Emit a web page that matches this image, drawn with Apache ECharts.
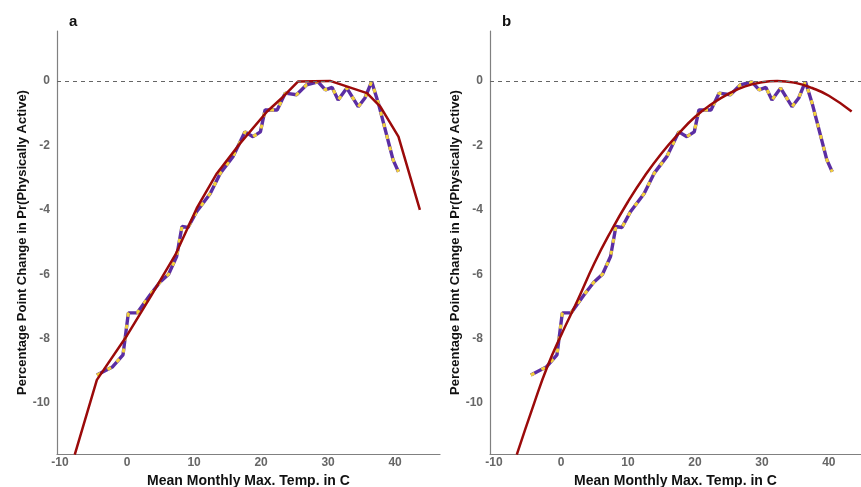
<!DOCTYPE html>
<html>
<head>
<meta charset="utf-8">
<script src="https://cdn.jsdelivr.net/npm/echarts@6/dist/echarts.min.js"></script>
<style>
  html, body { margin: 0; padding: 0; background: #fff; }
  #main { width: 861px; height: 487px; }
</style>
</head>
<body>
<div id="main"></div>
<script>
// binned estimates (same in both panels)
const binTemp = [-4.5, -2.2, -0.6, 0.2, 1.5, 3.4, 4.9, 6.2, 7.4, 8.2, 9.1, 10.4, 12.4, 13.9, 15.8,
  17.6, 18.8, 19.9, 20.6, 22.4, 23.6, 25.3, 26.8, 28.5, 29.6, 30.6, 31.5, 32.8, 34.5, 35.5,
  36.5, 37.5, 38.8, 39.7, 40.5];
const binEffect = [-9.13, -8.88, -8.5, -7.2, -7.2, -6.65, -6.25, -6.0, -5.45, -4.52, -4.55, -4.05, -3.5, -2.87, -2.35,
  -1.58, -1.73, -1.58, -0.9, -0.9, -0.38, -0.43, -0.12, -0.03, -0.28, -0.2, -0.59, -0.22, -0.8, -0.53,
  -0.02, -0.69, -1.73, -2.45, -2.82];

// panel a: piecewise fit
const fitTempA = [-7.8, -4.5, 0, 3.5, 7.2, 10.4, 13.4, 16.9, 20.9, 23.3, 25.5, 30.3, 35.8, 37.8, 40.5, 43.7];
const fitEffectA = [-11.6, -9.28, -7.9, -6.7, -5.4, -3.95, -2.87, -1.93, -0.95, -0.49, -0.02, 0, -0.38, -0.8, -1.73, -4.0];

// panel b: quadratic fit
const fitTempB = [-6.6, -4, -2, 0, 2.5, 5, 7.5, 10, 12.5, 15, 17.5, 20, 22.5, 25, 27.5, 30, 32.3, 35, 37.5, 40, 43.4];
const fitEffectB = [-11.6, -10.0, -8.85, -7.9, -6.8, -5.65, -4.65, -3.75, -2.95, -2.25, -1.65, -1.12, -0.72, -0.4, -0.17, -0.04, 0, -0.06, -0.22, -0.46, -0.95];

const panelLabels = ['a', 'b'];
const xTitle = 'Mean Monthly Max. Temp. in C';
const yTitle = 'Percentage Point Change in Pr(Physically Active)';

const zip = (xs, ys) => xs.map((x, i) => [x, ys[i]]);

const font = 'Liberation Sans, Arial, sans-serif';
const purple = '#5b2ea3';
const yellow = '#f3d23a';
const red = '#9b0a0a';

let chart = echarts.init(document.getElementById('main'));

function xAxis(idx, min, max) {
  return {
    type: 'value', gridIndex: idx, min: min, max: max, splitNumber: 5,
    name: xTitle, nameLocation: 'middle', nameGap: 11,
    nameTextStyle: { fontFamily: font, fontSize: 14, fontWeight: 'bold', color: '#111' },
    axisLine: { show: true, onZero: false, lineStyle: { color: '#808080', width: 1.2 } },
    axisTick: { show: false },
    splitLine: { show: false },
    axisLabel: {
      margin: 3, fontFamily: font, fontSize: 12, fontWeight: 'bold', color: '#666',
      showMinLabel: false, showMaxLabel: false,
      formatter: v => (Math.abs(v % 10) < 1e-6 ? String(v) : '')
    }
  };
}

function yAxis(idx) {
  return {
    type: 'value', gridIndex: idx, min: -11.58, max: 1.55, splitNumber: 7,
    name: yTitle, nameLocation: 'middle', nameGap: 25,
    nameTextStyle: { fontFamily: font, fontSize: 13, fontWeight: 'bold', color: '#111' },
    axisLine: { show: true, onZero: false, lineStyle: { color: '#808080', width: 1.2 } },
    axisTick: { show: false },
    splitLine: { show: false },
    axisLabel: {
      margin: 7, fontFamily: font, fontSize: 12, fontWeight: 'bold', color: '#666',
      showMinLabel: false, showMaxLabel: false,
      formatter: v => (Math.abs(v % 2) < 1e-6 ? String(v) : '')
    }
  };
}

function panelSeries(idx, fitX, fitY, smooth) {
  return [
    {
      type: 'line', xAxisIndex: idx, yAxisIndex: idx, data: zip(binTemp, binEffect),
      symbol: 'none', lineStyle: { color: purple, width: 3.4 }, z: 2,
      markLine: {
        silent: true, symbol: 'none', label: { show: false },
        lineStyle: { color: '#666', type: [4, 4], width: 1 },
        data: [{ yAxis: 0 }]
      }
    },
    {
      type: 'line', xAxisIndex: idx, yAxisIndex: idx, data: zip(binTemp, binEffect),
      symbol: 'none', lineStyle: { color: yellow, width: 3, type: [4, 8] }, z: 3
    },
    {
      type: 'line', xAxisIndex: idx, yAxisIndex: idx, data: zip(fitX, fitY),
      symbol: 'none', smooth: smooth, lineStyle: { color: red, width: 2.5 }, z: 4
    }
  ];
}

const option = {
  backgroundColor: '#fff',
  animation: false,
  title: [
    { text: panelLabels[0], left: 64, top: 9, textStyle: { fontFamily: font, fontSize: 15, fontWeight: 'bold', color: '#111' } },
    { text: panelLabels[1], left: 497, top: 9, textStyle: { fontFamily: font, fontSize: 15, fontWeight: 'bold', color: '#111' } }
  ],
  grid: [
    { left: 57, top: 31, width: 383, height: 423, outerBoundsMode: 'none' },
    { left: 490, top: 31, width: 371, height: 423, outerBoundsMode: 'none' }
  ],
  xAxis: [xAxis(0, -10.45, 46.7), xAxis(1, -10.6, 44.8)],
  yAxis: [yAxis(0), yAxis(1)],
  series: [
    ...panelSeries(0, fitTempA, fitEffectA, false),
    ...panelSeries(1, fitTempB, fitEffectB, true)
  ]
};

chart.setOption(option);
</script>
</body>
</html>
